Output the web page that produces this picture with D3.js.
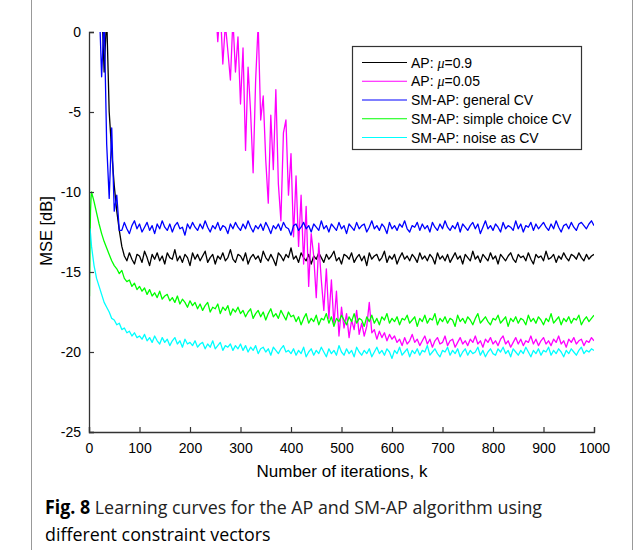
<!DOCTYPE html>
<html>
<head>
<meta charset="utf-8">
<script src="https://cdn.jsdelivr.net/npm/d3@7"></script>
<style>
  body { margin: 0; background: #fff; }
  text { font-family: "Liberation Sans", Arial, sans-serif; fill: #000; }
</style>
</head>
<body>
<div id="chart"></div>
<script>
var w = 637;
var h = 550;

// iteration grid: first few samples one by one, then every 5th
var iterations = [0, 1, 2, 3, 4].concat(d3.range(5, 1001, 5));

var yTicks = [0, -5, -10, -15, -20, -25];
var xTicks = [0, 100, 200, 300, 400, 500, 600, 700, 800, 900, 1000];

// AP mu=0.9, from k=25
var apFast = [2, -2.5, 1, -5, -7.5, -9.6, -11.2, -12.4, -13.4, -14.0,
  -14.3,-13.8,-14.2,-14.5,-13.9,-14.0,-14.4,-13.7,-14.1,-14.6,
  -13.9,-14.2,-13.8,-14.3,-14.0,-14.5,-13.8,-14.1,-14.2,-13.6,
  -14.3,-14.0,-14.4,-13.9,-14.1,-14.6,-13.8,-14.2,-13.9,-14.3,
  -14.0,-13.7,-14.4,-14.1,-13.9,-14.5,-14.0,-14.2,-13.8,-14.3,
  -14.1,-13.6,-14.2,-14.4,-13.9,-14.0,-14.3,-13.8,-14.5,-14.1,
  -13.9,-14.2,-14.0,-14.4,-13.7,-14.1,-14.3,-13.9,-14.2,-14.6,
  -13.8,-14.0,-14.3,-13.9,-14.1,-13.5,-14.2,-14.0,-14.4,-13.8,
  -14.1,-14.3,-13.9,-14.5,-14.0,-14.2,-13.8,-14.1,-14.4,-13.9,
  -14.2,-14.0,-13.7,-14.3,-14.1,-14.5,-13.9,-14.0,-14.2,-13.8,
  -14.4,-14.1,-13.9,-14.3,-14.0,-14.6,-13.8,-14.2,-14.0,-13.9,
  -14.3,-14.1,-13.7,-14.4,-14.0,-14.2,-13.9,-14.5,-14.1,-13.8,
  -14.2,-14.0,-14.3,-13.9,-14.1,-14.4,-13.8,-14.2,-14.0,-14.3,
  -13.9,-14.1,-14.5,-13.8,-14.2,-14.0,-14.3,-13.9,-14.4,-14.1,
  -13.8,-14.2,-14.0,-14.5,-13.9,-14.1,-14.3,-13.7,-14.2,-14.0,
  -14.4,-13.9,-14.1,-14.3,-13.8,-14.2,-14.0,-14.5,-13.9,-14.1,
  -14.3,-14.0,-13.8,-14.2,-14.4,-13.9,-14.1,-14.0,-14.3,-13.8,
  -14.2,-14.5,-13.9,-14.1,-14.0,-14.3,-13.7,-14.2,-14.1,-13.9,
  -14.4,-14.0,-14.2,-13.8,-14.1,-14.3,-13.9,-14.0,-14.2,-13.8,
  -14.1,-14.3,-13.9,-14.2,-14.0,-13.9];

// AP mu=0.05, from k=250
var apSlow = [2,
  -0.6, 1.5, -2.0, 0.5, -1.2, -3.0, 0.8, -2.5, -0.3, -4.5,
  -1.0, -7.4, -2.2, -5.0, -8.8, -3.0, 0.5, -5.5, -4.0, -8.0,
  -10.7, -5.2, -8.6, -3.6, -9.5, -11.8, -6.3, -5.5, -10.2, -7.6,
  -12.8, -9.0, -13.4, -10.2, -14.5, -10.9, -15.9, -12.6, -14.0, -16.6,
  -13.2, -15.5, -17.4, -14.8, -17.9, -15.5, -18.3, -16.2, -19.0, -17.2,
  -18.5, -17.6, -19.1, -18.0, -18.6, -17.4, -18.9, -18.2, -19.0, -18.4,
  -16.9, -18.8, -18.6, -19.2, -18.7, -19.1, -18.8, -19.3, -18.9, -19.2,
  -19.0,-19.4,-19.2,-19.6,-19.1,-19.5,-19.3,-18.9,-19.4,-19.2,
  -19.6,-19.3,-19.0,-19.5,-19.2,-19.7,-19.3,-19.1,-19.5,-19.4,
  -19.0,-19.6,-19.3,-19.2,-19.7,-19.4,-19.1,-19.5,-19.3,-19.6,
  -19.2,-19.4,-19.0,-19.5,-19.3,-19.7,-19.2,-19.4,-19.1,-19.5,
  -19.3,-19.6,-19.2,-19.0,-19.5,-19.3,-19.7,-19.4,-19.1,-19.5,
  -19.2,-19.6,-19.3,-19.4,-19.0,-19.5,-19.2,-19.6,-19.3,-19.1,
  -19.5,-19.3,-19.6,-19.2,-19.4,-19.0,-19.5,-19.3,-19.7,-19.2,
  -19.4,-19.1,-19.5,-19.3,-19.2,-19.6,-19.3,-19.4,-19.1,-19.3];

// SM-AP general CV, from k=20
var smGeneral = [2, -2.8, 1, -7, -10.4, -6, -11.2, -10.2, -12.4,
  -12.4,-11.9,-12.3,-12.6,-12.1,-11.8,-12.3,-12.0,-12.5,
  -12.2,-11.9,-12.4,-12.1,-12.6,-12.0,-12.3,-11.8,-12.2,-12.4,
  -12.0,-12.5,-12.1,-11.9,-12.3,-12.2,-12.7,-12.0,-12.3,-11.9,
  -12.2,-12.4,-12.0,-12.3,-11.8,-12.2,-12.5,-12.1,-12.3,-11.9,
  -12.4,-12.1,-12.2,-12.6,-12.0,-12.3,-11.9,-12.2,-12.4,-12.0,
  -12.3,-11.8,-12.2,-12.5,-12.1,-12.3,-12.0,-12.4,-11.9,-12.2,
  -12.6,-12.1,-12.3,-12.0,-12.4,-11.9,-12.2,-12.3,-12.7,-12.1,
  -12.0,-12.4,-12.2,-11.9,-12.3,-12.1,-12.5,-12.0,-12.2,-12.4,
  -11.8,-12.3,-12.1,-12.5,-12.0,-12.2,-12.4,-11.9,-12.3,-12.1,
  -12.6,-12.0,-12.2,-12.4,-11.9,-12.3,-12.1,-12.0,-12.5,-12.2,
  -11.8,-12.3,-12.1,-12.4,-12.0,-12.2,-12.6,-11.9,-12.3,-12.1,
  -12.4,-12.0,-12.2,-11.8,-12.3,-12.5,-12.1,-12.2,-11.9,-12.4,
  -12.0,-12.3,-12.1,-12.5,-11.9,-12.2,-12.4,-12.0,-12.3,-11.8,
  -12.2,-12.4,-12.1,-12.3,-11.9,-12.5,-12.0,-12.2,-12.4,-12.1,
  -11.9,-12.3,-12.0,-12.6,-12.2,-11.8,-12.3,-12.1,-12.4,-12.0,
  -12.2,-12.5,-11.9,-12.3,-12.1,-12.2,-12.4,-11.8,-12.3,-12.0,
  -12.5,-12.1,-12.2,-11.9,-12.4,-12.0,-12.3,-12.1,-11.9,-12.2,
  -12.4,-12.0,-12.3,-11.8,-12.2,-12.5,-12.1,-12.0,-12.3,-11.9,
  -12.2,-12.4,-12.0,-11.9,-12.1,-12.3,-12.0,-11.8,-12.1];

// SM-AP simple choice CV, from k=0
var smSimple = [3, -16.5, -13.0, -11.2, -10.4,
  -10.0,-10.6,-11.3,-12.0,-12.6,-13.1,-13.5,-13.9,-14.3,-14.6,
  -14.8,-15.1,-14.9,-15.4,-15.6,-15.5,-15.9,-15.7,-16.1,-15.9,
  -16.2,-16.0,-16.4,-16.1,-16.5,-16.3,-16.6,-16.2,-16.7,-16.5,
  -16.4,-16.8,-16.6,-16.9,-16.5,-17.0,-16.7,-16.9,-17.2,-16.8,
  -17.1,-16.9,-17.3,-17.0,-17.4,-17.1,-16.9,-17.5,-17.2,-17.3,
  -17.0,-17.6,-17.2,-17.4,-17.1,-17.7,-17.3,-17.5,-17.2,-17.6,
  -17.4,-17.8,-17.5,-17.3,-17.9,-17.6,-17.4,-17.8,-17.5,-18.0,
  -17.6,-17.3,-17.8,-17.6,-17.9,-17.4,-17.7,-18.0,-17.5,-17.8,
  -17.7,-18.1,-17.8,-18.3,-17.9,-17.6,-18.2,-17.9,-18.1,-17.7,
  -18.3,-17.9,-18.0,-17.6,-18.2,-17.8,-18.4,-17.9,-18.1,-17.7,
  -18.0,-18.3,-17.8,-18.1,-17.6,-18.2,-17.9,-18.0,-18.4,-17.8,
  -18.1,-17.7,-18.2,-17.9,-18.3,-17.8,-18.0,-17.6,-18.2,-17.9,
  -18.1,-17.8,-18.3,-17.9,-18.0,-17.7,-18.2,-18.0,-17.8,-18.4,
  -17.9,-18.1,-17.7,-18.2,-17.9,-18.0,-17.6,-18.3,-17.9,-18.1,
  -17.8,-18.2,-17.9,-18.0,-18.4,-17.7,-18.1,-17.9,-18.2,-17.8,
  -18.0,-18.3,-17.9,-17.6,-18.2,-18.0,-17.8,-18.1,-18.3,-17.9,
  -18.0,-17.7,-18.2,-18.0,-17.8,-18.4,-17.9,-18.1,-17.8,-18.2,
  -17.9,-18.0,-18.3,-17.7,-18.1,-17.9,-18.2,-17.8,-18.0,-18.3,
  -17.9,-18.1,-17.6,-18.2,-18.0,-17.8,-18.3,-17.9,-18.1,-17.8,
  -18.2,-17.9,-18.0,-17.7,-18.3,-18.0,-17.8,-18.1,-17.9,-17.7];

// SM-AP noise as CV, from k=0
var smNoise = [-16.0, -13.2, -12.3, -12.6, -13.0,
  -13.4,-14.6,-15.4,-15.9,-16.4,-16.9,-17.2,-17.5,-17.9,-18.0,
  -18.3,-18.2,-18.6,-18.5,-18.8,-18.7,-19.0,-18.8,-19.1,-19.0,
  -19.2,-18.9,-19.3,-19.1,-19.4,-19.0,-19.3,-19.5,-19.1,-19.4,
  -19.2,-19.6,-19.3,-19.1,-19.5,-19.3,-19.7,-19.2,-19.5,-19.4,
  -19.6,-19.3,-19.7,-19.5,-19.4,-19.8,-19.5,-19.7,-19.3,-19.8,
  -19.6,-19.4,-19.9,-19.6,-19.7,-19.5,-19.9,-19.6,-19.8,-19.5,
  -19.9,-19.6,-20.0,-19.7,-19.9,-19.6,-20.1,-19.8,-19.7,-20.0,
  -19.8,-20.2,-19.7,-19.9,-20.1,-19.8,-19.6,-20.0,-19.9,-20.1,
  -19.8,-20.2,-19.9,-20.1,-19.7,-20.3,-20.0,-19.8,-20.2,-19.9,
  -20.1,-19.7,-20.0,-20.3,-19.8,-20.1,-19.9,-20.2,-19.6,-20.0,
  -20.2,-19.8,-20.1,-19.9,-20.3,-19.7,-20.0,-20.2,-19.9,-20.1,
  -19.8,-20.3,-20.0,-19.7,-20.1,-19.9,-20.2,-19.8,-20.0,-20.4,
  -19.9,-20.1,-19.7,-20.2,-20.0,-19.8,-20.3,-19.9,-20.1,-19.8,
  -20.2,-19.9,-20.0,-19.6,-20.2,-20.0,-19.8,-20.1,-20.3,-19.9,
  -20.0,-19.7,-20.2,-19.9,-20.1,-19.8,-20.3,-20.0,-19.8,-20.2,
  -19.9,-20.1,-20.0,-19.7,-20.2,-19.9,-20.3,-20.0,-19.8,-20.1,
  -20.2,-19.8,-20.0,-19.7,-20.1,-19.9,-20.3,-19.8,-20.0,-20.2,
  -19.9,-20.1,-19.7,-20.0,-20.3,-19.9,-20.1,-19.8,-20.2,-19.9,
  -20.0,-19.7,-20.2,-19.9,-20.1,-19.8,-20.0,-20.3,-19.9,-20.1,
  -19.8,-20.0,-20.2,-19.9,-19.7,-20.1,-19.9,-20.0,-19.8,-19.9];

var series = [
  { label: "AP: ", mu: "0.9", color: "#000000", start: 25, values: apFast },
  { label: "AP: ", mu: "0.05", color: "#ff00ff", start: 250, values: apSlow },
  { label: "SM-AP: general CV", color: "#0000ff", start: 20, values: smGeneral },
  { label: "SM-AP: simple choice CV", color: "#00ff00", start: 0, values: smSimple },
  { label: "SM-AP: noise as CV", color: "#00ffff", start: 0, values: smNoise }
];

var svg = d3.select("#chart").append("svg")
  .attr("width", w)
  .attr("height", h)
  .style("background-color", "white");

// figure frame
svg.append("line").attr("x1", 31.5).attr("x2", 31.5).attr("y1", 0).attr("y2", h)
  .attr("stroke", "#999").attr("stroke-width", 1);
svg.append("line").attr("x1", 632.5).attr("x2", 632.5).attr("y1", 0).attr("y2", h)
  .attr("stroke", "#999").attr("stroke-width", 1);

var xScale = d3.scaleLinear().domain([0, 1000]).range([89, 594]);
var yScale = d3.scaleLinear().domain([-25, 0]).range([432, 32]);

svg.append("clipPath").attr("id", "plotClip")
  .append("rect").attr("x", 89).attr("y", 32).attr("width", 505).attr("height", 400);

var line = d3.line()
  .x(function(d) { return xScale(d[0]); })
  .y(function(d) { return yScale(d[1]); });

var lines = svg.append("g").attr("clip-path", "url(#plotClip)");
series.forEach(function(s) {
  var i0 = iterations.indexOf(s.start);
  var pts = s.values.map(function(v, i) { return [iterations[i0 + i], v]; });
  lines.append("path")
    .datum(pts)
    .attr("d", line)
    .attr("fill", "none")
    .attr("stroke", s.color)
    .attr("stroke-width", 1.3)
    .attr("stroke-linejoin", "round");
});

// axes
var xAxis = svg.append("g")
  .attr("transform", "translate(0,432)")
  .call(d3.axisBottom(xScale).tickValues(xTicks).tickSize(-5).tickPadding(11)
    .tickFormat(function(d) { return String(d); }));
var yAxis = svg.append("g")
  .attr("transform", "translate(89,0)")
  .call(d3.axisLeft(yScale).tickValues(yTicks).tickSize(-5).tickPadding(8)
    .tickFormat(function(d) { return String(d); }));
[xAxis, yAxis].forEach(function(a) {
  a.select(".domain").attr("stroke", "#333").attr("stroke-width", 1.3);
  a.selectAll(".tick line").attr("stroke", "#333").attr("stroke-width", 1.2);
  a.selectAll(".tick text").attr("font-family", "Liberation Sans, Arial, sans-serif")
    .attr("font-size", 14).attr("fill", "#000");
});

svg.append("text")
  .attr("x", 342).attr("y", 477)
  .attr("text-anchor", "middle")
  .attr("font-size", 17)
  .text("Number of iterations, k");

svg.append("text")
  .attr("transform", "translate(52,231) rotate(-90)")
  .attr("text-anchor", "middle")
  .attr("font-size", 16.5)
  .text("MSE [dB]");

// legend
var legend = svg.append("g");
legend.append("rect")
  .attr("x", 352.5).attr("y", 46.5).attr("width", 229).attr("height", 103)
  .attr("fill", "white").attr("stroke", "#333").attr("stroke-width", 1.2);
series.forEach(function(s, i) {
  var y = 62.5 + i * 18.75;
  legend.append("line")
    .attr("x1", 362).attr("x2", 407).attr("y1", y).attr("y2", y)
    .attr("stroke", s.color).attr("stroke-width", 1.2);
  var t = legend.append("text")
    .attr("x", 411).attr("y", y + 5)
    .attr("font-size", 14);
  t.append("tspan").text(s.label);
  if (s.mu) {
    t.append("tspan").attr("font-family", "Liberation Serif, Times New Roman, serif")
      .attr("font-style", "italic").text("\u03bc");
    t.append("tspan").text("=" + s.mu);
  }
});

// caption
var cap1 = svg.append("text")
  .attr("x", 45).attr("y", 514)
  .attr("font-size", 19).style("font-family", "Open Sans, Noto Sans, sans-serif");
cap1.append("tspan").attr("font-weight", "bold").text("Fig. 8");
cap1.append("tspan").attr("fill", "#222").text(" Learning curves for the AP and SM-AP algorithm using");
var cap2 = svg.append("text")
  .attr("x", 45).attr("y", 541)
  .attr("font-size", 19).style("font-family", "Open Sans, Noto Sans, sans-serif")
  .attr("fill", "#222")
  .text("different constraint vectors");
var squeeze = 497 / cap1.node().getComputedTextLength();
cap1.attr("textLength", 497).attr("lengthAdjust", "spacingAndGlyphs");
cap2.attr("textLength", cap2.node().getComputedTextLength() * squeeze).attr("lengthAdjust", "spacingAndGlyphs");
</script>
</body>
</html>
